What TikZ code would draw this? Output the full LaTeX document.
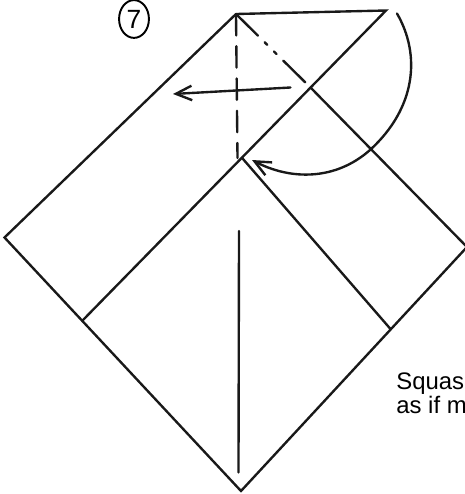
\documentclass[tikz,border=0pt]{standalone}
\usepackage{fontspec}
\setmainfont{Liberation Sans}
\usetikzlibrary{arrows.meta,shapes.geometric}
\begin{document}
\begin{tikzpicture}[x=0.02cm, y=-0.02cm,
  fold/.style={line width=1.35pt, draw=black!90, line cap=round},
  valley/.style={fold, dash pattern=on 9\pgflinewidth off 4.6\pgflinewidth},
  mountain/.style={fold, dash pattern=on 13\pgflinewidth off 4\pgflinewidth on 1.5\pgflinewidth off 4\pgflinewidth on 1.5\pgflinewidth off 4\pgflinewidth},
  move/.style={fold, -{Straight Barb[length=3.2mm, width=2.9mm, line width=1.35pt]}},
  stepnum/.style={ellipse, draw=black, line width=1.1pt, minimum width=17pt, minimum height=21.5pt, inner sep=0pt, font=\fontsize{15}{15}\selectfont},
  note/.style={align=left, anchor=north west, inner sep=0pt, font=\fontsize{13.6}{11.2}\selectfont}
]
\useasboundingbox (0,0) rectangle (465,494);
\clip (0,0) rectangle (465,494);
\coordinate (apex) at (236,14);
\coordinate (tip) at (386,10.5);
\coordinate (left) at (4.5,237.5);
\coordinate (right) at (467,247);
\coordinate (bottom) at (241,491);
\coordinate (cross) at (311,88);
\coordinate (notch) at (243,159);
\coordinate (creaseend) at (237.5,158);
\coordinate (lowl) at (83,320);
\coordinate (lowr) at (390.5,329);
\coordinate (midtop) at (239,231);
\coordinate (midbot) at (238.5,472.5);
\coordinate (pullst) at (290.5,87.5);
\coordinate (pullen) at (173,94);
\coordinate (swingst) at (397,13.5);
\coordinate (swingmid) at (370,150);
\coordinate (swingen) at (252,160);
\node[stepnum] (num) at (134,19) {7};
\node[note] (txt) at (396,372) {Squas\\as if m};
% outline
\draw[fold] (apex) -- (left) -- (bottom) -- (right) -- (cross);
\draw[fold] (apex) -- (tip) -- (lowl);
\draw[fold] (notch) -- (lowr);
\draw[fold] (midtop) -- (midbot);
% creases
\draw[mountain] (apex) -- (cross);
\draw[valley] (apex) -- (creaseend);
% arrows
\draw[move] (pullst) -- (pullen);
\draw[move] (swingst) .. controls (421,55) and (416,108) .. (swingmid) .. controls (335,181) and (290,180) .. (swingen);
\end{tikzpicture}
\end{document}
